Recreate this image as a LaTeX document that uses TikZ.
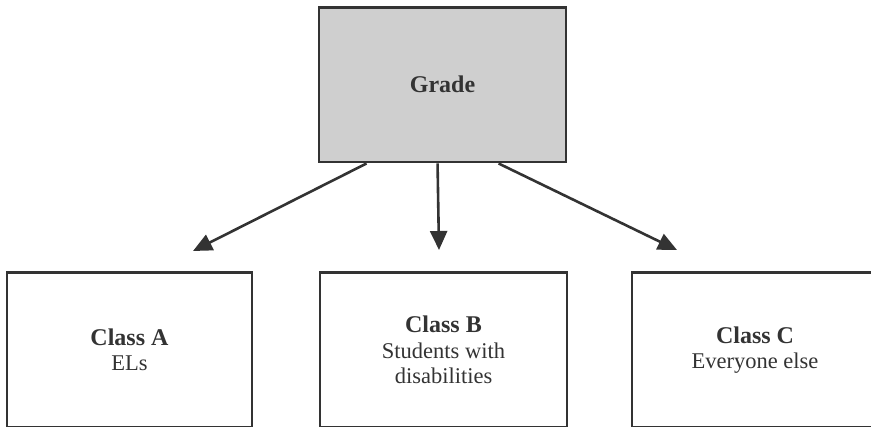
\documentclass[tikz,border=0pt]{standalone}
\usepackage{fontspec}
\setmainfont{Liberation Serif}
\usetikzlibrary{arrows.meta}
\definecolor{ink}{HTML}{333333}
\definecolor{boxfill}{HTML}{CFCFCF}
\tikzset{
  box/.style={draw=ink, line width=2.9pt, rectangle, inner sep=0pt, align=center,
    font=\fontsize{22.5}{25.5}\selectfont, text=ink},
  conn/.style={draw=ink, line width=2.6pt, -{Triangle[length=19pt,width=17pt]}},
}
\newcommand{\ttl}[1]{{\fontsize{24}{25.5}\selectfont\bfseries #1}}
\begin{document}
\begin{tikzpicture}[x=1pt,y=-1pt]
\useasboundingbox (0,0) rectangle (871,427);
\node[box, fill=boxfill, minimum width=247pt, minimum height=154.5pt] (grade) at (442.5,84.75) {\ttl{Grade}};
\node[box, minimum width=245pt, minimum height=155.5pt] (classA) at (129.5,350) {\ttl{Class A}\\ELs};
\node[box, minimum width=247pt, minimum height=155.5pt] (classB) at (443.5,350) {\ttl{Class B}\\Students with\\disabilities};
\node[box, minimum width=246pt, minimum height=155.5pt] (classC) at (755,350) {\ttl{Class C}\\Everyone else};
\coordinate (sA) at ([xshift=49pt]grade.south west);
\coordinate (sB) at ([xshift=120pt]grade.south west);
\coordinate (sC) at ([xshift=181pt]grade.south west);
\coordinate (tA) at (193,251);
\coordinate (tB) at (439,250);
\coordinate (tC) at (677,250);
\draw[conn] (sA) -- (tA);
\draw[conn] (sB) -- (tB);
\draw[conn] (sC) -- (tC);
\end{tikzpicture}
\end{document}
